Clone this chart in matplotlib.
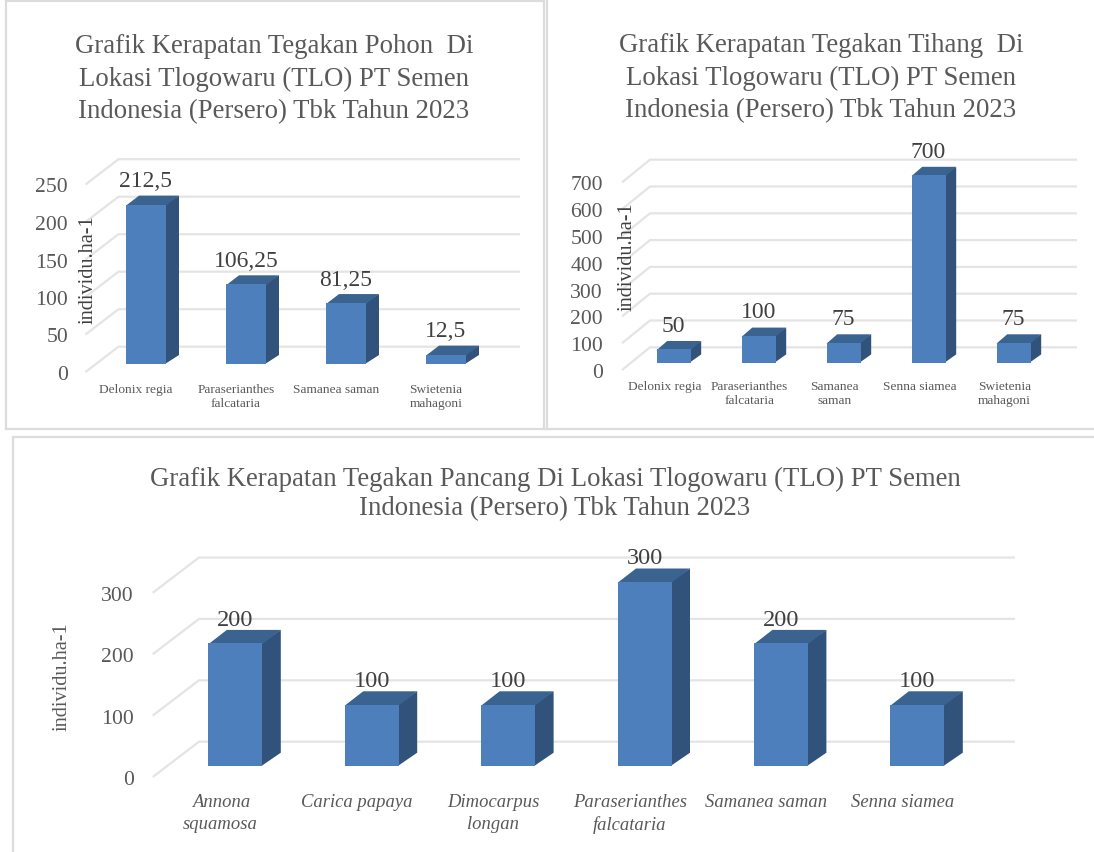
#Grafik kerapatan tegakan - 3 panel with fake 3D bars
import matplotlib
matplotlib.use('Agg')
import matplotlib.pyplot as plt
from matplotlib.patches import Polygon
from matplotlib.lines import Line2D
from matplotlib.transforms import Affine2D, IdentityTransform

plt.rcParams['font.family'] = ['Liberation Serif', 'DejaVu Serif']

#Data
pohon_species = ['Delonix regia', 'Paraserianthes\nfalcataria', 'Samanea saman', 'Swietenia\nmahagoni']
pohon_values = [212.5, 106.25, 81.25, 12.5]
pohon_labels = ['212,5', '106,25', '81,25', '12,5']
pohon_ticks = [0, 50, 100, 150, 200, 250]

tihang_species = ['Delonix regia', 'Paraserianthes\nfalcataria', 'Samanea\nsaman', 'Senna siamea', 'Swietenia\nmahagoni']
tihang_values = [50, 100, 75, 700, 75]
tihang_labels = ['50', '100', '75', '700', '75']
tihang_ticks = [0, 100, 200, 300, 400, 500, 600, 700]

pancang_species = ['Annona\nsquamosa', 'Carica papaya', 'Dimocarpus\nlongan', 'Paraserianthes\nfalcataria', 'Samanea saman', 'Senna siamea']
pancang_values = [200, 100, 100, 300, 200, 100]
pancang_labels = ['200', '100', '100', '300', '200', '100']
pancang_ticks = [0, 100, 200, 300]

pohon_title = 'Grafik Kerapatan Tegakan Pohon  Di\nLokasi Tlogowaru (TLO) PT Semen\nIndonesia (Persero) Tbk Tahun 2023'
tihang_title = 'Grafik Kerapatan Tegakan Tihang  Di\nLokasi Tlogowaru (TLO) PT Semen\nIndonesia (Persero) Tbk Tahun 2023'
pancang_title = 'Grafik Kerapatan Tegakan Pancang Di Lokasi Tlogowaru (TLO) PT Semen\nIndonesia (Persero) Tbk Tahun 2023'

W = 1094
H = 852
GRID = '#e4e4e4'
FRONT = '#4e7fbd'
SIDE = '#30527b'
TOP = '#3a6390'
TEXT = '#595959'
DARK = '#404040'

fig = plt.figure(figsize=(W / 100, H / 100), dpi=100, facecolor='white')


def frame_line(x0, y0, x1, y1):
    # y counted from the top of the picture, like in the reference
    fig.add_artist(Line2D([x0 / W, x1 / W], [1 - y0 / H, 1 - y1 / H], color='#dcdcdc', lw=1.6,
                          transform=fig.transFigure))


def panel(species, values, labels, ticks, title, left, base, step, scale, depth, bar_w, wall, front,
          grid_end, tick_x, ylab_x, ylab_y, xlab_y, xlab_shift, title_xy, italic=False, xsize=9.6,
          label_size=17, title_spacing=1.38, x_spacing=1.25):
    n = len(values)
    width = n * step
    height = scale * ticks[-1]
    ax = fig.add_axes([left / W, 1 - base / H, width / W, height / H])
    ax.set_xlim(-0.5, n - 0.5)
    ax.set_ylim(0, ticks[-1])
    ax.patch.set_visible(False)
    for s in ax.spines.values():
        s.set_visible(False)

    # pixel sizes to data units
    ux = 1.0 / step
    uy = 1.0 / scale
    dx, dy = depth

    # gridlines run from the front floor edge back to the wall
    for v in ticks:
        gx = [-0.5 - front[0] * ux, -0.5 + wall[0] * ux, -0.5 + (grid_end - left) * ux]
        gy = [v - front[1] * uy, v + wall[1] * uy, v + wall[1] * uy]
        ax.plot(gx, gy, color=GRID, lw=1.6, clip_on=False, zorder=1, solid_capstyle='butt')

    xs = list(range(n))
    ax.bar(xs, values, width=bar_w / step, color=FRONT, linewidth=0, zorder=4)
    for x, v, lab in zip(xs, values, labels):
        r = x + bar_w / step / 2
        l = x - bar_w / step / 2
        # side and top start a little behind the front face, so no seam shows
        ax.add_patch(Polygon([(r - ux, 0), (r + dx * ux, dy * uy), (r + dx * ux, v + dy * uy), (r - ux, v)],
                             closed=True, facecolor=SIDE, edgecolor='none', zorder=3, clip_on=False))
        ax.add_patch(Polygon([(l, v - uy), (r, v - uy), (r + dx * ux, v + dy * uy), (l + dx * ux, v + dy * uy)],
                             closed=True, facecolor=TOP, edgecolor='none', zorder=3, clip_on=False))
        ax.annotate(lab, (x, v), xytext=(0, 23 * 0.72), textcoords='offset points', ha='center',
                    va='center', fontsize=label_size, color=DARK, zorder=6, annotation_clip=False)

    # tick labels sit on the front edge, not on the bar plane
    ax.set_yticks(ticks)
    ax.set_yticklabels([str(v) for v in ticks], fontsize=15.6, color=TEXT)
    ax.tick_params(axis='y', length=0, pad=(left - tick_x) * 0.72)
    for t in ax.get_yticklabels():
        t.set_transform(t.get_transform() + Affine2D().translate(0, -(front[1] + 1)))
    ax.set_xticks(xs)
    ax.set_xticklabels(species, fontsize=xsize, color=TEXT, style='italic' if italic else 'normal',
                       linespacing=x_spacing)
    ax.tick_params(axis='x', length=0, pad=(xlab_y - base) * 0.72)
    for t in ax.get_xticklabels():
        t.set_transform(t.get_transform() + Affine2D().translate(xlab_shift, 0))

    ax.set_ylabel('individu.ha-1', fontsize=14.6, color=DARK if not italic else TEXT)
    ax.yaxis.set_label_coords(ylab_x, H - ylab_y, transform=IdentityTransform())
    ax.yaxis.label.set_va('center')

    fig.text(title_xy[0] / W, 1 - title_xy[1] / H, title, ha='center', va='center', fontsize=19.3,
             color=TEXT, linespacing=title_spacing)
    return ax


#Panel 1 - Pohon
panel(pohon_species, pohon_values, pohon_labels, pohon_ticks, pohon_title,
      left=96, base=364, step=100, scale=0.75, depth=(13, 9), bar_w=40, wall=(22.5, 17.3), front=(10.5, 8),
      grid_end=520, tick_x=68, ylab_x=88, ylab_y=270, xlab_y=384, xlab_shift=-10, title_xy=(274, 79))

#Panel 2 - Tihang
panel(tihang_species, tihang_values, tihang_labels, tihang_ticks, tihang_title,
      left=631, base=362.7, step=85, scale=0.268, depth=(10.7, 8.3), bar_w=34, wall=(19, 15.4), front=(9, 7.3),
      grid_end=1077, tick_x=603, ylab_x=627, ylab_y=257, xlab_y=381, xlab_shift=-9, title_xy=(821, 78))

#Panel 3 - Pancang
panel(pancang_species, pancang_values, pancang_labels, pancang_ticks, pancang_title,
      left=167.2, base=766, step=136.4, scale=0.614, depth=(18.4, 13.3), bar_w=54, wall=(31.8, 24.3), front=(14.5, 11),
      grid_end=1015, tick_x=134, ylab_x=62, ylab_y=677, xlab_y=794, xlab_shift=-14.7, title_xy=(555, 494),
      italic=True, xsize=13.4, label_size=17.6, title_spacing=1.25, x_spacing=1.35)

#Frames around the panels
frame_line(6, 1, 543, 1)
frame_line(6, 1, 6, 429)
frame_line(6, 429, 543, 429)
frame_line(543.5, 0, 543.5, 429)
frame_line(546.5, 0, 546.5, 429)
frame_line(546, 429, 1094, 429)
frame_line(13, 437, 1094, 437)
frame_line(13, 437, 13, 852)

plt.savefig('out.png', dpi=100)
